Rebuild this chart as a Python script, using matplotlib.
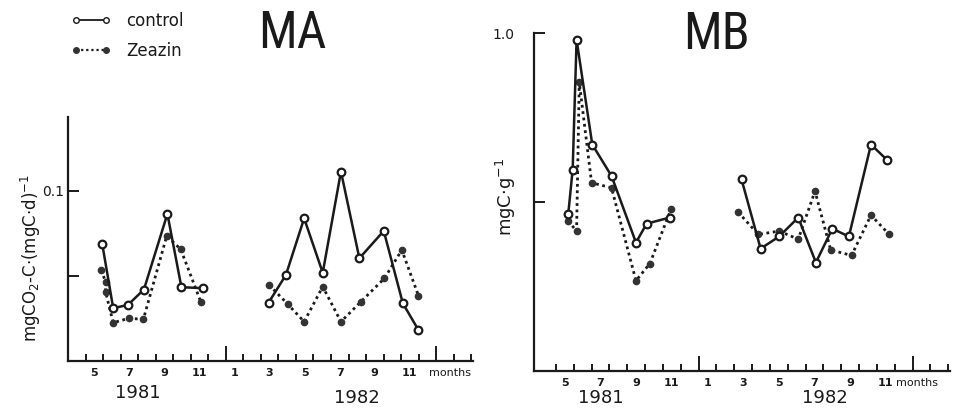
import matplotlib
matplotlib.use("Agg")
import matplotlib.pyplot as plt
from matplotlib import font_manager

# months counted from Jan 1981 = 1 (Jan 1982 = 13)
ma_control_81_x = [5.45, 6.08, 6.92, 7.83, 9.17, 9.97, 11.2]
ma_control_81_y = [0.069, 0.031, 0.033, 0.042, 0.0865, 0.0434, 0.0428]
ma_zeazin_81_x = [5.40, 5.64, 5.64, 6.08, 6.97, 7.80, 9.13, 9.93, 11.07]
ma_zeazin_81_y = [0.0535, 0.0466, 0.0408, 0.0225, 0.0251, 0.0245, 0.0735, 0.0657, 0.0349]
ma_control_82_x = [14.94, 15.93, 16.97, 18.03, 19.07, 20.12, 21.51, 22.6, 23.49]
ma_control_82_y = [0.0343, 0.0506, 0.0839, 0.0519, 0.1114, 0.0604, 0.0765, 0.0339, 0.0182]
ma_zeazin_82_x = [14.97, 16.03, 16.97, 18.03, 19.07, 20.21, 21.55, 22.54, 23.49]
ma_zeazin_82_y = [0.0447, 0.0335, 0.0231, 0.0437, 0.0231, 0.0349, 0.0486, 0.0653, 0.0384]

mb_control_81_x = [5.19, 5.44, 5.66, 6.54, 7.62, 8.99, 9.59, 10.89]
mb_control_81_y = [0.4635, 0.596, 0.980, 0.670, 0.577, 0.380, 0.436, 0.454]
mb_zeazin_81_x = [5.19, 5.66, 5.81, 6.50, 7.62, 8.99, 9.77, 10.95]
mb_zeazin_81_y = [0.444, 0.414, 0.855, 0.557, 0.542, 0.267, 0.318, 0.478]
mb_control_82_x = [14.91, 15.98, 17.02, 18.09, 19.08, 20.0, 20.93, 22.17, 23.08]
mb_control_82_y = [0.567, 0.362, 0.398, 0.454, 0.321, 0.421, 0.398, 0.670, 0.624]
mb_zeazin_82_x = [14.72, 15.85, 17.02, 18.09, 19.03, 19.91, 21.08, 22.17, 23.19]
mb_zeazin_82_y = [0.470, 0.404, 0.414, 0.390, 0.532, 0.358, 0.342, 0.461, 0.404]

month_pos = [5, 7, 9, 11, 13, 15, 17, 19, 21, 23]
month_labels = ["5", "7", "9", "11", "1", "3", "5", "7", "9", "11"]

INK = "#1a1a1a"

available = {f.name for f in font_manager.fontManager.ttflist}
title_font = "DejaVu Sans"
for name in ["Liberation Sans Narrow", "Roboto Condensed", "Open Sans Condensed", "DejaVu Sans"]:
    if name in available:
        title_font = name
        break


def draw_series(ax, cx, cy, zx, zy):
    ax.plot(zx, zy, color=INK, linestyle=(0, (1, 1.3)), linewidth=2.0,
            marker="o", markersize=4.5, markerfacecolor="#333333", markeredgecolor="#333333")
    ax.plot(cx, cy, color=INK, linestyle="-", linewidth=1.8,
            marker="o", markersize=5.5, markerfacecolor="white", markeredgecolor=INK, markeredgewidth=1.6)


def setup_axis(ax, xlim, ylim, yticks, ylabels, ypad):
    ax.set_xlim(*xlim)
    ax.set_ylim(*ylim)
    for side in ["top", "right"]:
        ax.spines[side].set_visible(False)
    ax.spines["left"].set_linewidth(1.6)
    ax.spines["bottom"].set_linewidth(1.6)
    ax.spines["left"].set_color(INK)
    ax.spines["bottom"].set_color(INK)

    bounds = [4.5 + i for i in range(23)]
    ax.set_xticks(bounds)
    ax.set_xticklabels([])
    ax.tick_params(axis="x", which="major", direction="in", length=5, width=1.4, color=INK)
    for t, b in zip(ax.xaxis.get_major_ticks(), bounds):
        if b in (12.5, 24.5):
            t.tick1line.set_markersize(11)
    ax.set_xticks(month_pos, month_labels, minor=True)
    ax.tick_params(axis="x", which="minor", length=0, pad=5, labelsize=8, labelcolor=INK)
    for lab in ax.get_xticklabels(minor=True):
        lab.set_fontweight("bold")

    ax.set_yticks(yticks, ylabels)
    ax.tick_params(axis="y", direction="in", length=8, width=1.4, color=INK,
                   labelsize=10, pad=ypad, labelcolor=INK)


fig = plt.figure(figsize=(9.59, 4.11), dpi=100)

# MA panel
ax1 = fig.add_axes([0.0709, 0.1217, 0.4223, 0.5937])
draw_series(ax1, ma_control_81_x, ma_control_81_y, ma_zeazin_81_x, ma_zeazin_81_y)
draw_series(ax1, ma_control_82_x, ma_control_82_y, ma_zeazin_82_x, ma_zeazin_82_y)
setup_axis(ax1, (3.5, 26.6), (0, 0.1435), [0.05, 0.1], ["", "0.1"], 3)
ax1.set_ylabel(r"mgCO$_2$-C$\cdot$(mgC$\cdot$d)$^{-1}$", fontsize=12, color=INK)
ax1.yaxis.set_label_coords(-0.062, 0.42)
ax1.text(7.5, -0.13, "1981", transform=ax1.get_xaxis_transform(), ha="center", va="center",
         fontsize=13, color=INK)
ax1.text(20.0, -0.15, "1982", transform=ax1.get_xaxis_transform(), ha="center", va="center",
         fontsize=13, color=INK)
ax1.text(24.1, -0.05, "months", transform=ax1.get_xaxis_transform(), ha="left", va="center",
         fontsize=8, color=INK)

# MB panel
ax2 = fig.add_axes([0.5568, 0.0973, 0.4338, 0.8224])
draw_series(ax2, mb_control_81_x, mb_control_81_y, mb_zeazin_81_x, mb_zeazin_81_y)
draw_series(ax2, mb_control_82_x, mb_control_82_y, mb_zeazin_82_x, mb_zeazin_82_y)
setup_axis(ax2, (3.27, 26.6), (0, 1.0), [0.5, 1.0], ["", "1.0"], 14)
ax2.set_ylabel(r"mgC$\cdot$g$^{-1}$", fontsize=13, color=INK)
ax2.yaxis.set_label_coords(-0.038, 0.515)
ax2.text(7.0, -0.08, "1981", transform=ax2.get_xaxis_transform(), ha="center", va="center",
         fontsize=13, color=INK)
ax2.text(19.6, -0.08, "1982", transform=ax2.get_xaxis_transform(), ha="center", va="center",
         fontsize=13, color=INK)
ax2.text(23.6, -0.035, "months", transform=ax2.get_xaxis_transform(), ha="left", va="center",
         fontsize=8, color=INK)

# titles
fig.text(0.305, 0.978, "MA", ha="center", va="top", fontsize=37, family=title_font,
         fontstretch="condensed", color=INK)
fig.text(0.747, 0.975, "MB", ha="center", va="top", fontsize=37, family=title_font,
         fontstretch="condensed", color=INK)

# legend
h1, = ax1.plot([], [], color=INK, linestyle="-", linewidth=1.3, marker="o", markersize=4,
               markerfacecolor="white", markeredgecolor=INK)
h2, = ax1.plot([], [], color=INK, linestyle=(0, (1, 1.3)), linewidth=1.6, marker="o",
               markersize=4, markerfacecolor="#333333", markeredgecolor="#333333")
fig.legend([h1, h2], ["control", "Zeazin"], loc="upper left", bbox_to_anchor=(0.074, 0.972),
           frameon=False, numpoints=2, handlelength=2.4, handletextpad=0.9, labelspacing=0.75,
           borderpad=0, borderaxespad=0, fontsize=12, labelcolor=INK)

fig.savefig("out.png", dpi=100, facecolor="white")
